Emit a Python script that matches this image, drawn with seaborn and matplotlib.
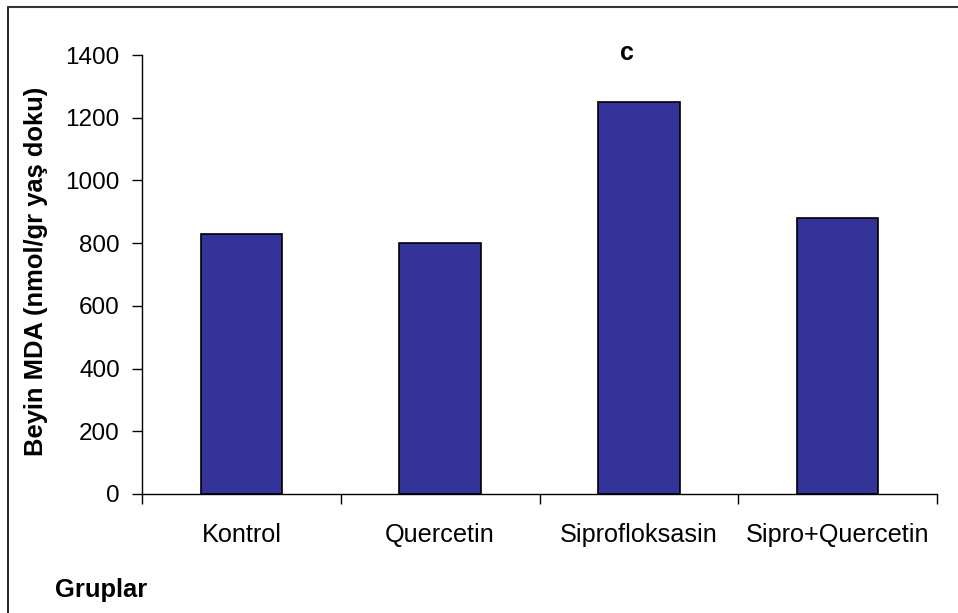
import matplotlib
matplotlib.use("Agg")
import matplotlib.pyplot as plt
from matplotlib.lines import Line2D
import seaborn as sns
import pandas as pd
import numpy as np

categories = ["Kontrol", "Quercetin", "Siprofloksasin", "Sipro+Quercetin"]
values = [830, 800, 1250, 880]
yticks = [0, 200, 400, 600, 800, 1000, 1200, 1400]
sig_label = "c"
sig_index = 2

sns.set_theme(style="white")
plt.rcParams['font.family'] = ['Liberation Sans', 'DejaVu Sans']
plt.rcParams['text.color'] = 'black'
plt.rcParams['axes.labelcolor'] = 'black'
plt.rcParams['xtick.color'] = 'black'
plt.rcParams['ytick.color'] = 'black'

df = pd.DataFrame({"Grup": categories, "MDA": values})

fig = plt.figure(figsize=(9.58, 6.13), dpi=100)
ax = fig.add_axes([142/958, 1-494/613, (937-142)/958, (494-55)/613])

sns.barplot(data=df, x="Grup", y="MDA", ax=ax, color="#333399", saturation=1,
            width=0.41, edgecolor="black", linewidth=1.2)

ax.set_ylim(0, 1400)
ax.set_xlim(-0.5, len(categories) - 0.5)
ax.set_yticks(yticks)
ax.set_yticklabels([str(t) for t in yticks], fontsize=17.5)

# x ticks: major at boundaries, labels at centers
ax.set_xticks(np.arange(len(categories) + 1) - 0.5)
ax.set_xticklabels([])
ax.set_xticks(np.arange(len(categories)), minor=True)
ax.set_xticklabels(categories, minor=True, fontsize=18.2)
ax.tick_params(axis="x", which="minor", length=0, pad=21, bottom=True)
ax.tick_params(axis="x", which="major", length=7, width=1, color="black",
               direction="out", bottom=True)
ax.tick_params(axis="y", length=7, width=1, color="black", direction="out",
               pad=9, left=True)

for s in ["top", "right"]:
    ax.spines[s].set_visible(False)
for s in ["left", "bottom"]:
    ax.spines[s].set_color("black")
    ax.spines[s].set_linewidth(1)

ax.set_xlabel("")
ax.set_ylabel("Beyin MDA (nmol/gr yaş doku)", fontsize=18.4, fontweight="bold",
              color="black")
ax.yaxis.set_label_coords(-0.118, 0.506)

ax.text(sig_index - 0.06, 1405, sig_label, ha="center", va="center",
        fontsize=18, fontweight="bold", color="black")

fig.text(55/958, 1-590/613, "Gruplar", ha="left", va="center",
         fontsize=18.4, fontweight="bold", color="black")

# outer frame (only top and left edges visible)
fig.add_artist(Line2D([8/958, 8/958], [0, 1-6.5/613], transform=fig.transFigure,
                      color="black", linewidth=1.2))
fig.add_artist(Line2D([8/958, 1], [1-6.5/613, 1-6.5/613], transform=fig.transFigure,
                      color="#333333", linewidth=1.5))

fig.savefig("out.png", dpi=100)
